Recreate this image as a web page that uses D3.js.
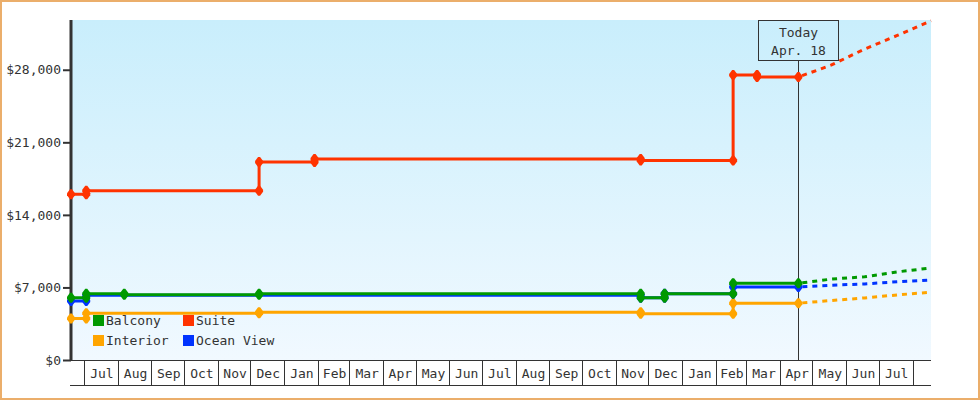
<!DOCTYPE html>
<html>
<head>
<meta charset="utf-8">
<script src="https://cdn.jsdelivr.net/npm/d3@7/dist/d3.min.js"></script>
<style>
  html, body { margin: 0; padding: 0; background: #fff; }
  svg { display: block; }
  text { font-family: "DejaVu Sans Mono", monospace; font-size: 13px; fill: #333; }
</style>
</head>
<body>
<div id="chart"></div>
<script>
// ---------------- DATA ----------------
const seriesNames = ["Balcony", "Suite", "Interior", "Ocean View"];
const seriesColors = ["#009900", "#ff3300", "#ffa500", "#0033ff"];

const suiteDates = ["2015-06-19","2015-07-03","2015-07-03","2015-12-09","2015-12-09","2016-01-29","2016-01-29","2016-11-24","2016-11-24","2017-02-17","2017-02-17","2017-03-11","2017-03-11","2017-04-18"];
const suiteValues = [16000,16000,16330,16330,19100,19100,19400,19400,19250,19250,27500,27500,27300,27300];

const balconyDates = ["2015-06-19","2015-07-03","2015-07-03","2015-08-07","2015-08-07","2015-12-09","2015-12-09","2016-11-24","2016-11-24","2016-12-16","2016-12-16","2017-02-17","2017-02-17","2017-04-18"];
const balconyValues = [6000,6000,6380,6380,6300,6300,6380,6380,6000,6000,6380,6380,7400,7400];

const oceanDates = ["2015-06-19","2015-07-03","2015-07-03","2016-11-24","2016-11-24","2016-12-16","2016-12-16","2017-02-17","2017-02-17","2017-04-18"];
const oceanValues = [5700,5700,6250,6250,6000,6000,6380,6380,7050,7050];

const interiorDates = ["2015-06-19","2015-07-03","2015-07-03","2015-12-09","2015-12-09","2016-11-24","2016-11-24","2017-02-17","2017-02-17","2017-04-18"];
const interiorValues = [4000,4000,4500,4500,4600,4600,4450,4450,5480,5480];

const forecastDates = ["2017-04-18","2017-05-18","2017-06-18","2017-07-18","2017-08-18"];
const suiteForecast    = [27300, 28440, 30000, 31310, 32730];
const balconyForecast  = [7400, 7800, 8030, 8500, 8880];
const oceanForecast    = [7050, 7210, 7340, 7550, 7720];
const interiorForecast = [5480, 5735, 5990, 6280, 6540];

const domainStart = "2015-06-19";
const domainEnd = "2017-08-18";
const todayDate = "2017-04-18";
const todayLabel = ["Today", "Apr. 18"];
const yTicks = [0, 7000, 14000, 21000, 28000];
const yMax = 32800;

// ---------------- CHART ----------------
const W = 980, H = 400;
const parse = d3.timeParse("%Y-%m-%d");
const mLeft = 71, mRight = 931, mTop = 20, mBottom = 360, axisBottom = 385;

const svg = d3.select("#chart").append("svg").attr("width", W).attr("height", H);

svg.append("rect").attr("x", 1).attr("y", 1).attr("width", W - 2).attr("height", H - 2)
  .attr("fill", "#fff").attr("stroke", "#ebae6b").attr("stroke-width", 2);

const defs = svg.append("defs");
const grad = defs.append("linearGradient").attr("id", "bg").attr("x1", 0).attr("y1", 0).attr("x2", 0).attr("y2", 1);
grad.append("stop").attr("offset", "0%").attr("stop-color", "#c9eefc");
grad.append("stop").attr("offset", "100%").attr("stop-color", "#f1f9ff");

const x = d3.scaleTime().domain([parse(domainStart), parse(domainEnd)]).range([mLeft, mRight]);
const y = d3.scaleLinear().domain([0, yMax]).range([mBottom, mTop]);

svg.append("rect").attr("x", mLeft).attr("y", mTop).attr("width", mRight - mLeft).attr("height", mBottom - mTop)
  .attr("fill", "url(#bg)");

// Y axis
const yAxis = d3.axisLeft(y).tickValues(yTicks).tickSize(8).tickPadding(2)
  .tickFormat(d => "$" + d3.format(",")(d));
const yg = svg.append("g").attr("transform", `translate(${mLeft},0)`).call(yAxis);
yg.select(".domain").remove();
yg.selectAll(".tick line").attr("stroke", "#333").attr("stroke-width", 2);
yg.selectAll(".tick text").style("font-family", '"DejaVu Sans Mono", monospace').style("font-size", "13px").attr("fill", "#333");
svg.append("line").attr("x1", mLeft).attr("x2", mLeft).attr("y1", mTop).attr("y2", mBottom + 1)
  .attr("stroke", "#333").attr("stroke-width", 3);

// X axis (month cells)
svg.append("line").attr("x1", mLeft - 1).attr("x2", mRight).attr("y1", mBottom + 0.5).attr("y2", mBottom + 0.5).attr("stroke", "#333");
svg.append("line").attr("x1", mLeft - 1).attr("x2", mRight).attr("y1", axisBottom + 0.5).attr("y2", axisBottom + 0.5).attr("stroke", "#333");
const months = d3.timeMonth.range(d3.timeMonth.ceil(x.domain()[0]), x.domain()[1]);
const xg = svg.append("g");
months.forEach(m => {
  const px = Math.round(x(m)) + 0.5;
  xg.append("line").attr("x1", px).attr("x2", px).attr("y1", mBottom).attr("y2", axisBottom).attr("stroke", "#333");
  const next = d3.timeMonth.offset(m, 1);
  if (next <= x.domain()[1]) {
    xg.append("text").attr("x", (x(m) + x(next)) / 2 + 1).attr("y", 378)
      .attr("text-anchor", "middle").text(d3.timeFormat("%b")(m));
  }
});

// Today marker
const tx = Math.round(x(parse(todayDate))) + 0.5;
svg.append("line").attr("x1", tx).attr("x2", tx).attr("y1", 60).attr("y2", mBottom).attr("stroke", "#333");
svg.append("rect").attr("x", tx - 40).attr("y", 20.5).attr("width", 80).attr("height", 40)
  .attr("fill", "none").attr("stroke", "#333");
svg.append("text").attr("x", tx).attr("y", 37).attr("text-anchor", "middle").text(todayLabel[0]);
svg.append("text").attr("x", tx).attr("y", 55).attr("text-anchor", "middle").text(todayLabel[1]);

// Series
const series = [
  { name: "Interior", color: seriesColors[2], dates: interiorDates, values: interiorValues, fc: interiorForecast },
  { name: "Ocean View", color: seriesColors[3], dates: oceanDates, values: oceanValues, fc: oceanForecast },
  { name: "Balcony", color: seriesColors[0], dates: balconyDates, values: balconyValues, fc: balconyForecast },
  { name: "Suite", color: seriesColors[1], dates: suiteDates, values: suiteValues, fc: suiteForecast }
];

const line = d3.line().x(d => x(d[0])).y(d => y(d[1]));
const marker = "M-1,-5 L1,-5 L4,-1 L4,1 L1,5 L-1,5 L-4,1 L-4,-1 Z";

series.forEach(s => {
  const pts = s.dates.map((d, i) => [parse(d), s.values[i]]);
  const fpts = forecastDates.map((d, i) => [parse(d), s.fc[i]]);
  const g = svg.append("g");
  g.append("path").attr("d", line(fpts)).attr("fill", "none").attr("stroke", s.color)
    .attr("stroke-width", 3).attr("stroke-dasharray", "5,5").attr("stroke-dashoffset", -4);
  g.append("path").attr("d", line(pts)).attr("fill", "none").attr("stroke", s.color).attr("stroke-width", 3);
  g.selectAll("path.m").data(pts).enter().append("path").attr("class", "m")
    .attr("d", marker).attr("fill", s.color)
    .attr("transform", d => `translate(${x(d[0])},${y(d[1])})`);
});

// Legend
const legendItems = [
  { name: seriesNames[0], color: seriesColors[0], lx: 93, ly: 315 },
  { name: seriesNames[1], color: seriesColors[1], lx: 183, ly: 315 },
  { name: seriesNames[2], color: seriesColors[2], lx: 93, ly: 335 },
  { name: seriesNames[3], color: seriesColors[3], lx: 183, ly: 335 }
];
const lg = svg.append("g");
legendItems.forEach(it => {
  lg.append("rect").attr("x", it.lx).attr("y", it.ly).attr("width", 11).attr("height", 11).attr("fill", it.color);
  lg.append("text").attr("x", it.lx + 13).attr("y", it.ly + 10).text(it.name);
});
</script>
</body>
</html>
